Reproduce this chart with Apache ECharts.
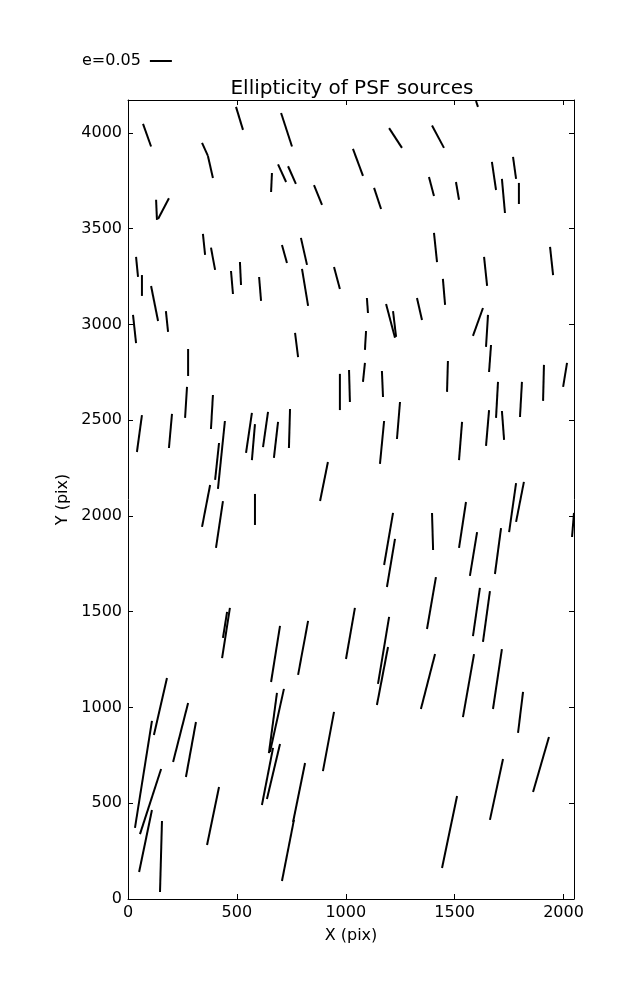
<!DOCTYPE html>
<html>
<head>
<meta charset="utf-8">
<script src="https://cdn.jsdelivr.net/npm/echarts@6/dist/echarts.min.js"></script>
<style>
html,body{margin:0;padding:0;background:#fff;}
#chart{width:637px;height:1000px;}
</style>
</head>
<body>
<div id="chart"></div>
<script>
// Whisker endpoints in data units (pix)
const xStart = [69,496,703,340,367,661,689,735,854,129,188,344,381,707,794,37,514,473,799,946,602,64,106,174,23,767,276,271,390,973,1015,64,202,445,418,569,583,643,689,744,377,436,583,918,
 1598,1199,1396,1033,1130,1382,1506,1671,1768,1717,1795,1405,1938,1635,1446,1097,1185,1217,1327,1630,1653,1093,1667,1088,1166,1469,1699,1809,1910,2016,1249,1176,1534,1658,1717,
 1217,1226,1396,1552,1603,1713,1782,1818,2048,1414,1616,1662,1042,
 468,455,698,827,179,110,152,110,276,312,716,684,698,666,946,813,762,418,156,
 1199,1194,1410,1589,1717,1814,1933,1722,1511];
const yStart = [4047,4136,4104,3948,3880,3791,3836,3826,3728,3651,3659,3473,3401,3415,3452,3353,3326,3279,3290,3300,3248,3258,3201,3070,3050,2956,2872,2674,2632,2742,2762,2527,2533,2496,2381,2538,2480,2543,2491,2559,2162,2078,2115,2282,
 4167,4025,4039,3917,3713,3770,3744,3849,3875,3760,3739,3478,3405,3353,3238,3138,3107,3070,3138,3086,3050,2966,2893,2799,2757,2809,2700,2700,2789,2799,2595,2496,2491,2553,2548,
 2016,1880,2016,2073,1916,1937,2172,2178,2016,1681,1624,1608,1520,
 1520,1499,1426,1452,1154,930,679,465,1024,924,1097,1076,809,789,977,710,413,585,407,
 1473,1316,1279,1279,1305,1081,846,731,538];
const xEnd = [106,528,753,367,390,657,726,771,891,133,138,354,400,730,822,46,519,482,827,973,611,64,138,184,37,781,276,262,381,973,1019,41,188,413,400,542,569,620,670,739,340,404,583,882,
 1607,1258,1451,1079,1162,1405,1520,1690,1782,1731,1795,1419,1952,1649,1456,1102,1226,1231,1350,1584,1644,1088,1658,1079,1171,1465,1690,1800,1906,1998,1235,1157,1520,1644,1727,
 1176,1189,1401,1520,1570,1685,1750,1782,2039,1373,1584,1630,1001,
 432,436,657,781,119,32,55,51,207,266,652,647,638,615,895,758,707,363,147,
 1148,1143,1345,1538,1676,1791,1860,1662,1442];
const yEnd = [3929,4016,3929,3880,3765,3692,3744,3734,3624,3546,3551,3363,3285,3321,3311,3248,3206,3159,3097,3185,3123,3149,3018,2961,2903,2830,2731,2512,2454,2553,2595,2334,2355,2141,2188,2329,2292,2360,2303,2355,1943,1833,1953,2078,
 4136,3922,3922,3776,3603,3671,3651,3702,3760,3582,3629,3326,3258,3201,3102,3060,2930,2935,3023,2940,2883,2867,2752,2700,2621,2648,2512,2517,2601,2674,2402,2272,2292,2366,2397,
 1744,1629,1822,1833,1687,1697,1916,1969,1890,1410,1373,1342,1253,
 1258,1363,1133,1170,856,371,339,141,715,637,768,762,522,491,668,402,94,282,37,
 1123,1013,992,950,992,867,559,413,162];

const xTicks = [0, 500, 1000, 1500, 2000];
const yTicks = [0, 500, 1000, 1500, 2000, 2500, 3000, 3500, 4000];
const xMax = 2048, yMax = 4172;
const legendLabel = 'e=0.05';

const segs = xStart.map((x, i) => [x, yStart[i], xEnd[i], yEnd[i]]);

const chart = echarts.init(document.getElementById('chart'));
const font = 'DejaVu Sans';
const axisCommon = {
  min: 0,
  interval: 500,
  axisLine: { show: true, onZero: false, lineStyle: { color: '#000', width: 1 } },
  axisTick: { show: true, inside: true, length: 5, lineStyle: { color: '#000' } },
  splitLine: { show: false },
};
chart.setOption({
  animation: false,
  backgroundColor: '#fff',
  title: {
    text: 'Ellipticity of PSF sources',
    left: 347, top: 74, textAlign: 'center',
    textStyle: { fontFamily: font, fontSize: 20, fontWeight: 'normal', color: '#000' }
  },
  legend: {
    left: 77, top: 48, align: 'right',
    data: [{ name: legendLabel, icon: 'rect' }],
    itemWidth: 22, itemHeight: 2, itemGap: 0,
    textStyle: { fontFamily: font, fontSize: 16, color: '#000', padding: [0, 4, 0, 0] },
    selectedMode: false
  },
  grid: { left: 128, right: 63, top: 100, bottom: 101 },
  xAxis: [
    Object.assign({}, axisCommon, {
      type: 'value', max: xMax, position: 'bottom',
      name: 'X (pix)', nameLocation: 'middle', nameGap: 29,
      nameTextStyle: { fontFamily: font, fontSize: 16, color: '#000' },
      axisLabel: { fontFamily: font, fontSize: 16, color: '#000', margin: 6,
        customValues: xTicks, formatter: v => String(v) },
      axisTick: Object.assign({}, axisCommon.axisTick, { customValues: xTicks })
    }),
    Object.assign({}, axisCommon, {
      type: 'value', max: xMax, position: 'top',
      axisLabel: { show: false },
      axisTick: Object.assign({}, axisCommon.axisTick, { customValues: xTicks })
    })
  ],
  yAxis: [
    Object.assign({}, axisCommon, {
      type: 'value', max: yMax, position: 'left',
      name: 'Y (pix)', nameLocation: 'middle', nameGap: 57,
      nameTextStyle: { fontFamily: font, fontSize: 16, color: '#000' },
      axisLabel: { fontFamily: font, fontSize: 16, color: '#000', margin: 6,
        customValues: yTicks, formatter: v => String(v) },
      axisTick: Object.assign({}, axisCommon.axisTick, { customValues: yTicks })
    }),
    Object.assign({}, axisCommon, {
      type: 'value', max: yMax, position: 'right',
      axisLabel: { show: false },
      axisTick: Object.assign({}, axisCommon.axisTick, { customValues: yTicks })
    })
  ],
  series: [{
    name: legendLabel,
    type: 'custom',
    clip: true,
    itemStyle: { color: '#000' },
    encode: { x: [0, 2], y: [1, 3] },
    data: segs,
    renderItem: function (params, api) {
      const p1 = api.coord([api.value(0), api.value(1)]);
      const p2 = api.coord([api.value(2), api.value(3)]);
      return {
        type: 'line',
        shape: { x1: p1[0], y1: p1[1], x2: p2[0], y2: p2[1] },
        style: { stroke: '#000', lineWidth: 2, lineCap: 'butt' }
      };
    }
  }]
});
</script>
</body>
</html>
